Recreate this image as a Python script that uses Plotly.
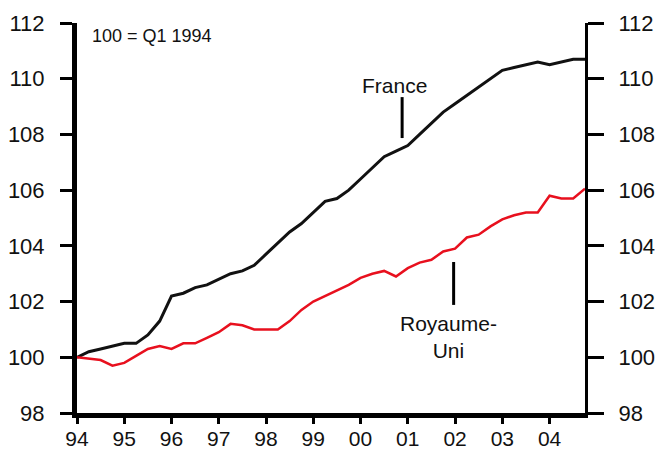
import plotly.graph_objects as go

# quarterly index, 100 = Q1 1994
quarters = [1994 + i * 0.25 for i in range(44)]

france = [100.0, 100.2, 100.3, 100.4, 100.5, 100.5, 100.8, 101.3,
          102.2, 102.3, 102.5, 102.6, 102.8, 103.0, 103.1, 103.3,
          103.7, 104.1, 104.5, 104.8, 105.2, 105.6, 105.7, 106.0,
          106.4, 106.8, 107.2, 107.4, 107.6, 108.0, 108.4, 108.8,
          109.1, 109.4, 109.7, 110.0, 110.3, 110.4, 110.5, 110.6,
          110.5, 110.6, 110.7, 110.7]

royaume_uni = [100.0, 99.95, 99.9, 99.7, 99.8, 100.05, 100.3, 100.4,
               100.3, 100.5, 100.5, 100.7, 100.9, 101.2, 101.15, 101.0,
               101.0, 101.0, 101.3, 101.7, 102.0, 102.2, 102.4, 102.6,
               102.85, 103.0, 103.1, 102.9, 103.2, 103.4, 103.5, 103.8,
               103.9, 104.3, 104.4, 104.7, 104.95, 105.1, 105.2, 105.2,
               105.8, 105.7, 105.7, 106.05]

year_ticks = list(range(1994, 2005))
year_labels = ['94', '95', '96', '97', '98', '99', '00', '01', '02', '03', '04']
y_ticks = [98, 100, 102, 104, 106, 108, 110, 112]

font = dict(family='Liberation Sans, Arial, sans-serif', color='#111111')

fig = go.Figure()
fig.add_trace(go.Scatter(x=quarters, y=france, mode='lines',
                         line=dict(color='#111111', width=3), name='France'))
fig.add_trace(go.Scatter(x=quarters, y=royaume_uni, mode='lines',
                         line=dict(color='#e8101e', width=2.5), name='Royaume-Uni'))

fig.update_layout(
    width=658, height=453, autosize=False,
    margin=dict(l=77, r=73, t=23, b=40, autoexpand=False),
    paper_bgcolor='white', plot_bgcolor='white',
    showlegend=False,
    font=dict(size=22, **font),
    xaxis=dict(range=[1994, 2004.75], tickvals=year_ticks, ticktext=year_labels,
               showgrid=False, zeroline=False, showline=True, linecolor='black',
               linewidth=5, ticks='outside', ticklen=6, tickwidth=3,
               tickcolor='black', ticklabelstandoff=-3, automargin=False,
               tickfont=dict(size=21)),
    yaxis=dict(range=[98, 112], tickvals=y_ticks, showgrid=False, zeroline=False,
               showline=True, linecolor='black', linewidth=5, ticks='outside',
               ticklen=12, tickwidth=3, tickcolor='black', ticklabelstandoff=11,
               automargin=False),
    yaxis2=dict(range=[98, 112], tickvals=y_ticks, overlaying='y', side='right',
                showgrid=False, zeroline=False, showline=True, linecolor='black',
                linewidth=3, ticks='outside', ticklen=16, tickwidth=3,
                tickcolor='black', ticklabelstandoff=10, automargin=False),
)

# keep the right axis alive with an invisible copy of the UK series
fig.add_trace(go.Scatter(x=quarters, y=royaume_uni, yaxis='y2', mode='lines',
                         line=dict(width=0), hoverinfo='skip', opacity=0))

fig.add_annotation(x=1994.27, y=111.55, text='100 = Q1 1994', showarrow=False,
                   xanchor='left', font=dict(size=18, **font))
fig.add_annotation(x=2000.72, y=109.77, text='France', showarrow=False,
                   font=dict(size=21, **font))
fig.add_annotation(x=2001.87, y=100.73, text='Royaume-<br>Uni', showarrow=False,
                   font=dict(size=21, **font))

fig.add_shape(type='line', x0=2000.88, x1=2000.88, y0=107.87, y1=109.34,
              line=dict(color='black', width=3))
fig.add_shape(type='line', x0=2001.97, x1=2001.97, y0=101.88, y1=103.42,
              line=dict(color='black', width=3))

# page body default margin shifts the figure; drop it
fig.write_html('out.html', config={'displayModeBar': False},
               post_script="document.body.style.margin='0';")
